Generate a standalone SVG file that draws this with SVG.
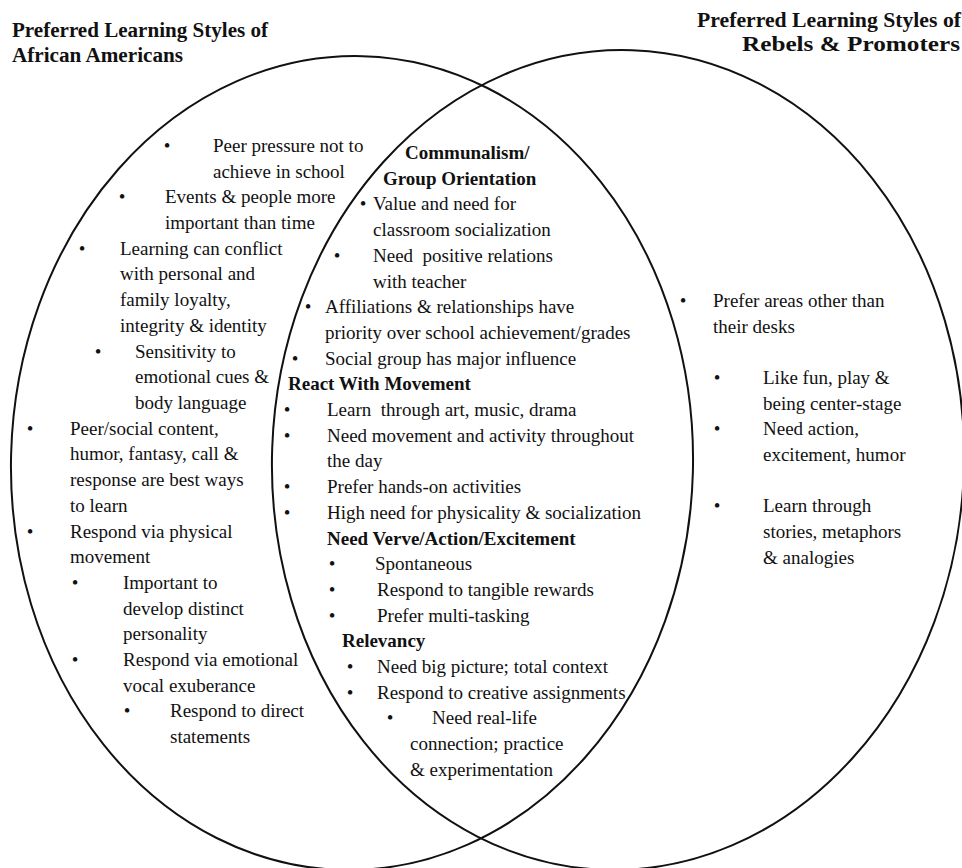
<svg xmlns="http://www.w3.org/2000/svg" width="962" height="868" viewBox="0 0 962 868">
<style>
  text { font-family: "Liberation Serif", "Times New Roman", serif; font-size: 19px; fill: #111; }
  .b { font-weight: bold; }
  .t { font-weight: bold; font-size: 20px; }
  .set { fill: none; stroke: #111; stroke-width: 2; }
  .bul { text-anchor: middle; }
</style>
<rect width="962" height="868" fill="#fff"/>

<g id="set-african-americans">
  <ellipse class="set" cx="352" cy="463" rx="341" ry="407" transform="rotate(1.5 352 463)"/>
</g>
<g id="set-rebels-promoters">
  <ellipse class="set" cx="618" cy="460" rx="346" ry="410" transform="rotate(2 618 460)"/>
</g>

<g id="title-left">
  <text class="t" x="12" y="37" textLength="256" lengthAdjust="spacingAndGlyphs">Preferred Learning Styles of</text>
  <text class="t" x="12" y="62" textLength="171" lengthAdjust="spacingAndGlyphs">African Americans</text>
</g>
<g id="title-right">
  <text class="t" x="697" y="27" textLength="264" lengthAdjust="spacingAndGlyphs">Preferred Learning Styles of</text>
  <text class="t" x="742" y="51" textLength="218" lengthAdjust="spacingAndGlyphs">Rebels &amp; Promoters</text>
</g>

<g id="region-left">
  <text class="bul" x="167" y="152">•</text>
  <text x="213" y="152">Peer pressure not to</text>
  <text x="213" y="178">achieve in school</text>
  <text class="bul" x="122" y="203">•</text>
  <text x="165" y="203">Events &amp; people more</text>
  <text x="165" y="229">important than time</text>
  <text class="bul" x="82" y="255">•</text>
  <text x="120" y="255">Learning can conflict</text>
  <text x="120" y="280">with personal and</text>
  <text x="120" y="306">family loyalty,</text>
  <text x="120" y="332">integrity &amp; identity</text>
  <text class="bul" x="98" y="358">•</text>
  <text x="135" y="358">Sensitivity to</text>
  <text x="135" y="383">emotional cues &amp;</text>
  <text x="135" y="409">body language</text>
  <text class="bul" x="30" y="435">•</text>
  <text x="70" y="435">Peer/social content,</text>
  <text x="70" y="460">humor, fantasy, call &amp;</text>
  <text x="70" y="486">response are best ways</text>
  <text x="70" y="512">to learn</text>
  <text class="bul" x="30" y="538">•</text>
  <text x="70" y="538">Respond via physical</text>
  <text x="70" y="563">movement</text>
  <text class="bul" x="75" y="589">•</text>
  <text x="123" y="589">Important to</text>
  <text x="123" y="615">develop distinct</text>
  <text x="123" y="640">personality</text>
  <text class="bul" x="75" y="666">•</text>
  <text x="123" y="666">Respond via emotional</text>
  <text x="123" y="692">vocal exuberance</text>
  <text class="bul" x="127" y="717">•</text>
  <text x="170" y="717">Respond to direct</text>
  <text x="170" y="743">statements</text>
</g>

<g id="region-overlap">
  <text class="b" x="405" y="159">Communalism/</text>
  <text class="b" x="383" y="185">Group Orientation</text>
  <text class="bul" x="363" y="210">•</text>
  <text x="373" y="210">Value and need for</text>
  <text x="373" y="236">classroom socialization</text>
  <text class="bul" x="337" y="262">•</text>
  <text x="373" y="262" xml:space="preserve">Need  positive relations</text>
  <text x="373" y="288">with teacher</text>
  <text class="bul" x="308" y="313">•</text>
  <text x="325" y="313">Affiliations &amp; relationships have</text>
  <text x="325" y="339">priority over school achievement/grades</text>
  <text class="bul" x="295" y="365">•</text>
  <text x="325" y="365">Social group has major influence</text>
  <text class="b" x="288" y="390">React With Movement</text>
  <text class="bul" x="287" y="416">•</text>
  <text x="327" y="416" xml:space="preserve">Learn  through art, music, drama</text>
  <text class="bul" x="287" y="442">•</text>
  <text x="327" y="442">Need movement and activity throughout</text>
  <text x="327" y="467">the day</text>
  <text class="bul" x="287" y="493">•</text>
  <text x="327" y="493">Prefer hands-on activities</text>
  <text class="bul" x="287" y="519">•</text>
  <text x="327" y="519">High need for physicality &amp; socialization</text>
  <text class="b" x="327" y="545">Need Verve/Action/Excitement</text>
  <text class="bul" x="332" y="570">•</text>
  <text x="375" y="570">Spontaneous</text>
  <text class="bul" x="332" y="596">•</text>
  <text x="377" y="596">Respond to tangible rewards</text>
  <text class="bul" x="332" y="622">•</text>
  <text x="377" y="622">Prefer multi-tasking</text>
  <text class="b" x="342" y="647">Relevancy</text>
  <text class="bul" x="350" y="673">•</text>
  <text x="377" y="673">Need big picture; total context</text>
  <text class="bul" x="350" y="699">•</text>
  <text x="377" y="699">Respond to creative assignments</text>
  <text class="bul" x="390" y="724">•</text>
  <text x="432" y="724">Need real-life</text>
  <text x="410" y="750">connection; practice</text>
  <text x="410" y="776">&amp; experimentation</text>
</g>

<g id="region-right">
  <text class="bul" x="683" y="307">•</text>
  <text x="713" y="307">Prefer areas other than</text>
  <text x="713" y="333">their desks</text>
  <text class="bul" x="717" y="384">•</text>
  <text x="763" y="384">Like fun, play &amp;</text>
  <text x="763" y="410">being center-stage</text>
  <text class="bul" x="717" y="435">•</text>
  <text x="763" y="435">Need action,</text>
  <text x="763" y="461">excitement, humor</text>
  <text class="bul" x="717" y="512">•</text>
  <text x="763" y="512">Learn through</text>
  <text x="763" y="538">stories, metaphors</text>
  <text x="763" y="564">&amp; analogies</text>
</g>
</svg>
